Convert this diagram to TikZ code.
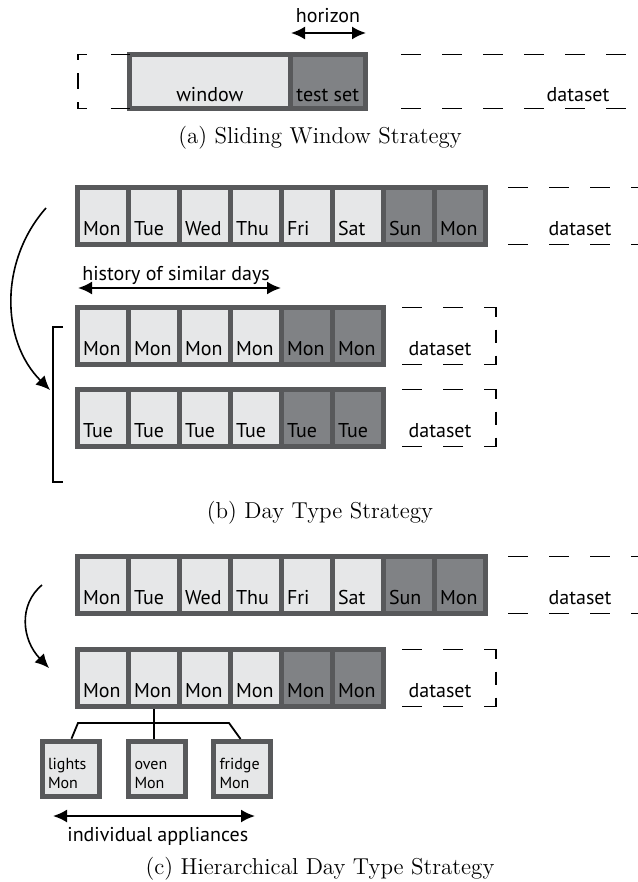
\documentclass[tikz,border=0pt]{standalone}
\usepackage{fontspec}
\setsansfont{PT Sans}
\usetikzlibrary{arrows.meta}

\definecolor{cellfill}{HTML}{E6E7E8}
\definecolor{testfill}{HTML}{808285}
\definecolor{cellframe}{HTML}{58595B}

\newcommand{\dayfont}{\sffamily\fontsize{10}{12}\selectfont}
\newcommand{\applfont}{\sffamily\fontsize{8}{9.5}\selectfont}
\newcommand{\captfont}{\fontsize{11.5}{14}\selectfont}

\begin{document}
\begin{tikzpicture}[x=0.5pt, y=-0.5pt, >={Latex[length=7pt,width=6.5pt]},
		histday/.style={draw=cellframe, line width=2.5pt, fill=cellfill, anchor=north west,
			minimum width=25.5pt, minimum height=28.5pt, inner sep=0pt, outer sep=0pt,
			text width=20pt, align=left, text height=19pt, text depth=0pt, font=\dayfont},
		testday/.style={histday, fill=testfill},
		wide/.style={draw=cellframe, line width=2.5pt, fill=cellfill, anchor=north west,
			minimum height=27pt, inner sep=0pt, outer sep=0pt,
			text height=20.5pt, text depth=0pt, font=\dayfont},
		appl/.style={draw=cellframe, line width=2.5pt, fill=cellfill, anchor=north west,
			minimum width=28.5pt, minimum height=27.5pt, inner sep=0pt, outer sep=0pt,
			text width=22.5pt, align=left, text height=10pt, text depth=9.5pt, font=\applfont},
		dslabel/.style={anchor=base, inner sep=0pt, font=\dayfont},
		dsline/.style={line width=0.9pt, dash pattern=on 10pt off 10.5pt},
		dsbox/.style={line width=0.9pt, dash pattern=on 10pt off 10.5pt on 10pt off 10.5pt on 10.5pt off 6.5pt on 6.5pt off 6.5pt on 10.5pt off 10.5pt on 10pt off 10.5pt on 10pt},
		dsopen/.style={line width=0.9pt, dash pattern=on 9.5pt off 12pt on 7.25pt off 6.5pt on 8pt off 6.5pt on 7.25pt off 12pt on 9.5pt},
		span/.style={line width=1pt, <->},
		turn/.style={line width=0.8pt, ->},
		tree/.style={line width=0.9pt},
		capt/.style={font=\captfont}]

		\useasboundingbox (0,0) rectangle (637,882);

		\begin{scope}
			\node[wide, minimum width=80.25pt] (win) at (129.5,54.5) {window};
			\node[wide, minimum width=37.75pt, fill=testfill] (tst) at (290,54.5) {test set};
			\coordinate (aTL) at (78,54.5);
			\coordinate (aBL) at (78,108.5);
			\coordinate (aTR0) at (401,54.5);
			\coordinate (aTR1) at (650,54.5);
			\coordinate (aBR0) at (401,108.5);
			\coordinate (aBR1) at (650,108.5);
			\coordinate (hzL) at (291,33);
			\coordinate (hzR) at (366,33);
			\node[dslabel] (hzText) at (328,23) {horizon};
			\node[dslabel] (dsA) at (578,102) {dataset};
			\draw[dsopen] (win.north west) -- (aTL) -- (aBL) -- (win.south west);
			\draw[dsline] (aTR0) -- (aTR1);
			\draw[dsline] (aBR0) -- (aBR1);
			\draw[span] (hzL) -- (hzR);
			\node[capt] (capA) at (320,138) {(a) Sliding Window Strategy};
		\end{scope}

		\begin{scope}
			\node[histday] (bd1) at (77.5,187.5) {Mon};
			\node[histday] (bd2) at (128.5,187.5) {Tue};
			\node[histday] (bd3) at (179.5,187.5) {Wed};
			\node[histday] (bd4) at (230.5,187.5) {Thu};
			\node[histday] (bd5) at (281.5,187.5) {Fri};
			\node[histday] (bd6) at (332.5,187.5) {Sat};
			\node[testday] (bd7) at (383.5,187.5) {Sun};
			\node[testday] (bd8) at (434.5,187.5) {Mon};

			\node[histday] (bm1) at (77.5,307.5) {Mon};
			\node[histday] (bm2) at (128.5,307.5) {Mon};
			\node[histday] (bm3) at (179.5,307.5) {Mon};
			\node[histday] (bm4) at (230.5,307.5) {Mon};
			\node[testday] (bm5) at (281.5,307.5) {Mon};
			\node[testday] (bm6) at (332.5,307.5) {Mon};

			\node[histday] (bt1) at (77.5,389.5) {Tue};
			\node[histday] (bt2) at (128.5,389.5) {Tue};
			\node[histday] (bt3) at (179.5,389.5) {Tue};
			\node[histday] (bt4) at (230.5,389.5) {Tue};
			\node[testday] (bt5) at (281.5,389.5) {Tue};
			\node[testday] (bt6) at (332.5,389.5) {Tue};

			\node[dslabel] (dsB1) at (580,235) {dataset};
			\node[dslabel] (dsB2) at (440,355) {dataset};
			\node[dslabel] (dsB3) at (440,437) {dataset};
			\node[dslabel, anchor=base west] (histText) at (82,280) {history of similar days};

			\coordinate (bTR0) at (508,187.5);
			\coordinate (bTR1) at (650,187.5);
			\coordinate (bBR0) at (508,244.5);
			\coordinate (bBR1) at (650,244.5);
			\coordinate (bmA) at (402,307.5);
			\coordinate (bmB) at (496,307.5);
			\coordinate (bmC) at (496,364.5);
			\coordinate (bmD) at (402,364.5);
			\coordinate (btA) at (402,389.5);
			\coordinate (btB) at (496,389.5);
			\coordinate (btC) at (496,446.5);
			\coordinate (btD) at (402,446.5);
			\coordinate (histL) at (78,288);
			\coordinate (histR) at (281,288);
			\coordinate (bTurnS) at (46,208);
			\coordinate (bTurnE) at (50,390);
			\coordinate (brT) at (63,327);
			\coordinate (brB) at (63,482);

			\draw[dsline] (bTR0) -- (bTR1);
			\draw[dsline] (bBR0) -- (bBR1);
			\draw[dsbox] (bmA) -- (bmB) -- (bmC) -- (bmD);
			\draw[dsbox] (btA) -- (btB) -- (btC) -- (btD);
			\draw[span] (histL) -- (histR);
			\draw[turn] (bTurnS) .. controls (0,260) and (0,340) .. (bTurnE);
			\draw[tree] (brT) -- (53,327) -- (53,482) -- (brB);
			\node[capt] (capB) at (320,513) {(b) Day Type Strategy};
		\end{scope}

		\begin{scope}
			\node[histday] (cd1) at (77.5,556.5) {Mon};
			\node[histday] (cd2) at (128.5,556.5) {Tue};
			\node[histday] (cd3) at (179.5,556.5) {Wed};
			\node[histday] (cd4) at (230.5,556.5) {Thu};
			\node[histday] (cd5) at (281.5,556.5) {Fri};
			\node[histday] (cd6) at (332.5,556.5) {Sat};
			\node[testday] (cd7) at (383.5,556.5) {Sun};
			\node[testday] (cd8) at (434.5,556.5) {Mon};

			\node[histday] (cm1) at (77.5,649.5) {Mon};
			\node[histday] (cm2) at (128.5,649.5) {Mon};
			\node[histday] (cm3) at (179.5,649.5) {Mon};
			\node[histday] (cm4) at (230.5,649.5) {Mon};
			\node[testday] (cm5) at (281.5,649.5) {Mon};
			\node[testday] (cm6) at (332.5,649.5) {Mon};

			\node[appl] (lights) at (42,741) {lights\\Mon};
			\node[appl] (oven) at (128.5,741) {oven\\Mon};
			\node[appl] (fridge) at (213.5,741) {fridge\\Mon};

			\node[dslabel] (dsC1) at (580,604) {dataset};
			\node[dslabel] (dsC2) at (440,697) {dataset};
			\node[dslabel, anchor=base west] (applText) at (67,841) {individual appliances};

			\coordinate (cTR0) at (508,556.5);
			\coordinate (cTR1) at (650,556.5);
			\coordinate (cBR0) at (508,613.5);
			\coordinate (cBR1) at (650,613.5);
			\coordinate (cmA) at (402,649.5);
			\coordinate (cmB) at (496,649.5);
			\coordinate (cmC) at (496,706.5);
			\coordinate (cmD) at (402,706.5);
			\coordinate (cTurnS) at (42,585);
			\coordinate (cTurnE) at (49,668);
			\coordinate (treeL) at (78,723);
			\coordinate (treeR) at (229,723);
			\coordinate (applL) at (53,816);
			\coordinate (applR) at (255,816);

			\draw[dsline] (cTR0) -- (cTR1);
			\draw[dsline] (cBR0) -- (cBR1);
			\draw[dsbox] (cmA) -- (cmB) -- (cmC) -- (cmD);
			\draw[turn] (cTurnS) .. controls (18,605) and (22,640) .. (cTurnE);
			\draw[tree, shorten <=1.25pt, shorten >=1.25pt] (cm2.south) -- (cm2.south |- oven.north);
			\draw[tree, shorten <=1.25pt, shorten >=1.25pt] (lights.north) -- (treeL) -- (treeR) -- (fridge.north);
			\draw[span] (applL) -- (applR);
			\node[capt] (capC) at (320,869) {(c) Hierarchical Day Type Strategy};
		\end{scope}
	\end{tikzpicture}
\end{document}
